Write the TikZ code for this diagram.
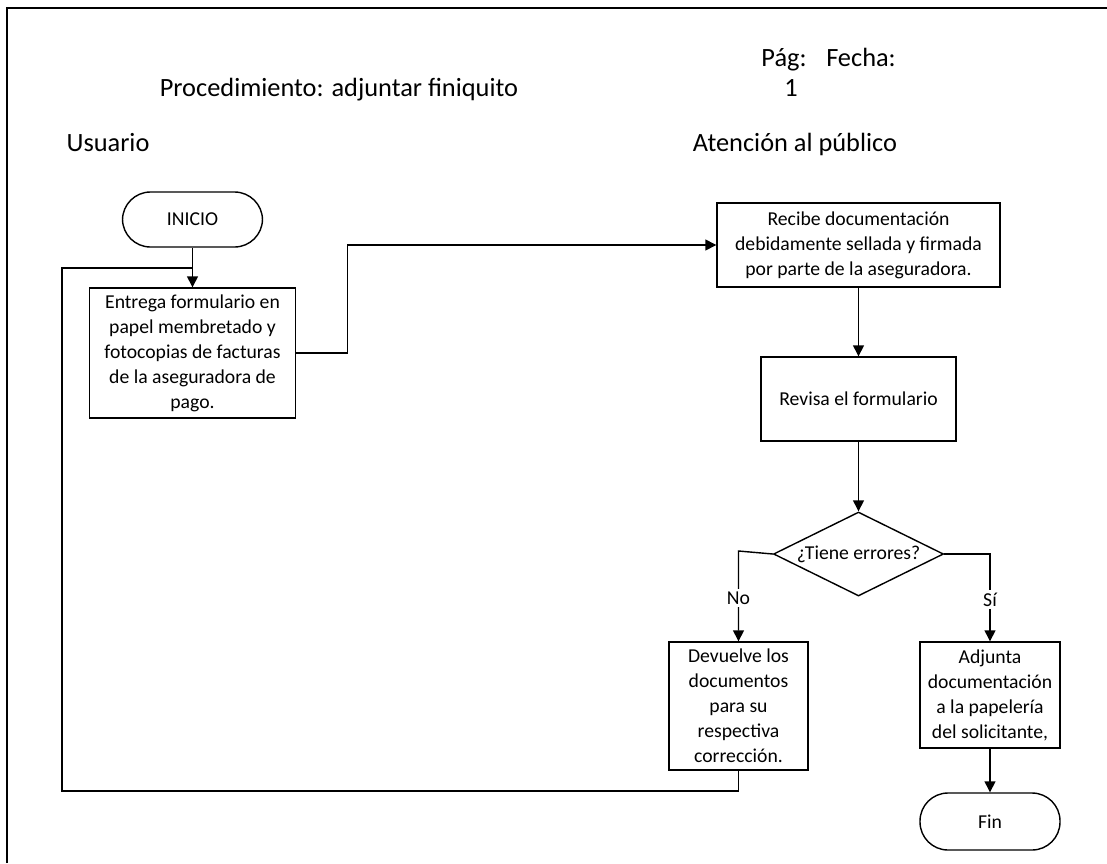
\documentclass[tikz,border=0pt]{standalone}
\usepackage{fontspec}
\setmainfont{Carlito}
\usetikzlibrary{arrows.meta, shapes.geometric}

\tikzset{
  wire/.style={line width=0.8pt},
  arr/.style={wire, -{Triangle[length=2.2mm,width=2.2mm]}},
  box/.style={draw, line width=0.8pt, align=center, inner sep=2pt,
    font=\fontsize{11.2}{14.2}\selectfont},
  term/.style={box, rounded corners=0.56cm, minimum width=2.8cm},
  decision/.style={diamond, draw, line width=0.8pt, inner sep=0pt, aspect=2,
    minimum width=3.4cm, minimum height=1.68cm, font=\fontsize{11.2}{14.2}\selectfont},
  head/.style={anchor=base, font=\fontsize{15}{18}\selectfont},
  lbl/.style={fill=white, inner sep=1.5pt, font=\fontsize{11.2}{14.2}\selectfont}
}

\begin{document}
\begin{tikzpicture}
\useasboundingbox (0,0) rectangle (22.14,-17.26);

% sheet frame (only left and top edges show)
\draw[wire] (0.14,-17.26) -- (0.14,-0.16) -- (22.14,-0.16);

% headings
\node[head] (titulo) at (6.78,-1.93) {Procedimiento: adjuntar finiquito};
\node[head] (pag) at (15.68,-1.33) {Pág:};
\node[head] (fecha) at (17.22,-1.33) {Fecha:};
\node[head] (num) at (15.82,-1.93) {1};
\node[head] (usuario) at (2.16,-3.03) {Usuario};
\node[head] (atencion) at (15.9,-3.03) {Atención al público};

% Usuario column
\node[term, minimum height=1.1cm] (inicio) at (3.85,-4.39) {INICIO};
\node[box, minimum width=4.12cm, minimum height=2.6cm] (entrega) at (3.85,-7.06)
  {Entrega formulario en\\papel membretado y\\fotocopias de facturas\\de la aseguradora de\\pago.};

% Atencion al publico column
\node[box, minimum width=5.66cm, minimum height=1.68cm] (recibe) at (17.17,-4.9)
  {Recibe documentación\\debidamente sellada y firmada\\por parte de la aseguradora.};
\node[box, minimum width=3.9cm, minimum height=1.68cm] (revisa) at (17.17,-7.98)
  {Revisa el formulario};
\node[decision] (dec) at (17.17,-11.08) {¿Tiene errores?};
\node[box, minimum width=2.78cm, minimum height=2.56cm] (devuelve) at (14.77,-14.12)
  {Devuelve los\\documentos\\para su\\respectiva\\corrección.};
\node[box, minimum width=2.8cm, minimum height=2.12cm] (adjunta) at (19.8,-13.9)
  {Adjunta\\documentación\\a la papelería\\del solicitante,};
\node[term, minimum height=1.14cm] (fin) at (19.8,-16.43) {Fin};

% connectors
\draw[arr] (inicio) -- (entrega);
\draw[arr] (entrega.east) -- ++(1.02,0) |- (recibe.west);
\draw[arr] (recibe) -- (revisa);
\draw[arr] (revisa) -- (dec);

\coordinate (noturn) at (14.77,-11.02);
\draw[arr] (dec.west) -- (noturn) -- node[lbl, pos=0.52] {No} (devuelve);
\draw[arr] (dec.east) -| node[lbl, pos=0.76] {Sí} (adjunta);
\draw[arr] (adjunta) -- (fin);

% return line back to the start
\coordinate (retbot) at (1.24,-15.82);
\coordinate (rettop) at (1.24,-5.36);
\draw[wire] (devuelve.south) |- (retbot) -- (rettop) -- (rettop -| inicio.south);

\end{tikzpicture}
\end{document}
